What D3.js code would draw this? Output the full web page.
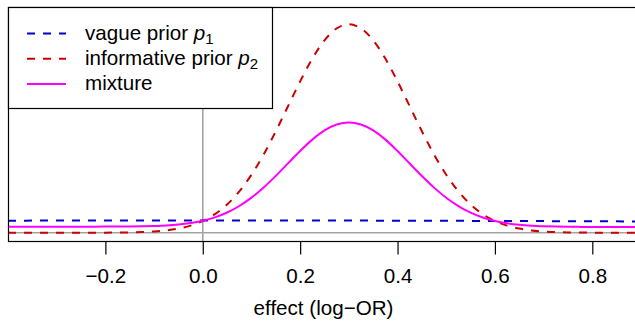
<!DOCTYPE html>
<html>
<head>
<meta charset="utf-8">
<script src="https://cdn.jsdelivr.net/npm/d3@7"></script>
<style>
  body { margin: 0; background: #fff; }
  svg { display: block; font-family: "Liberation Sans", Arial, Helvetica, sans-serif; }
</style>
</head>
<body>
<svg id="chart" width="635" height="321"></svg>
<script>
// Grid of effect values (log odds ratio)
const effect = [
  -0.400, -0.375, -0.350, -0.325, -0.300, -0.275, -0.250, -0.225, -0.200, -0.175,
  -0.150, -0.125, -0.100, -0.075, -0.050, -0.025,  0.000,  0.025,  0.050,  0.075,
   0.100,  0.125,  0.150,  0.175,  0.200,  0.225,  0.250,  0.275,  0.300,  0.325,
   0.350,  0.375,  0.400,  0.425,  0.450,  0.475,  0.500,  0.525,  0.550,  0.575,
   0.600,  0.625,  0.650,  0.675,  0.700,  0.725,  0.750,  0.775,  0.800,  0.825,
   0.850,  0.875,  0.900
];
// Vague prior density p1
const vague = [
  0.184, 0.184, 0.185, 0.185, 0.185, 0.186, 0.186, 0.186, 0.186, 0.186,
  0.187, 0.187, 0.187, 0.187, 0.187, 0.187, 0.187, 0.187, 0.187, 0.187,
  0.187, 0.187, 0.187, 0.186, 0.186, 0.186, 0.186, 0.185, 0.185, 0.185,
  0.185, 0.184, 0.184, 0.184, 0.183, 0.183, 0.182, 0.182, 0.181, 0.181,
  0.180, 0.180, 0.179, 0.179, 0.178, 0.177, 0.177, 0.176, 0.175, 0.175,
  0.174, 0.173, 0.173
];
// Informative prior density p2
const informative = [
  0.000, 0.000, 0.000, 0.000, 0.000, 0.000, 0.000, 0.000, 0.001, 0.002,
  0.005, 0.010, 0.019, 0.035, 0.063, 0.109, 0.179, 0.284, 0.432, 0.632,
  0.887, 1.197, 1.553, 1.935, 2.316, 2.665, 2.945, 3.127, 3.190, 3.127,
  2.945, 2.665, 2.316, 1.935, 1.553, 1.197, 0.887, 0.632, 0.432, 0.284,
  0.179, 0.109, 0.063, 0.035, 0.019, 0.010, 0.005, 0.002, 0.001, 0.000,
  0.000, 0.000, 0.000
];
// Equal-weight mixture of p1 and p2
const mixture = [
  0.092, 0.092, 0.092, 0.093, 0.093, 0.093, 0.093, 0.093, 0.094, 0.094,
  0.096, 0.098, 0.103, 0.111, 0.125, 0.148, 0.183, 0.235, 0.309, 0.409,
  0.537, 0.692, 0.870, 1.061, 1.251, 1.425, 1.565, 1.656, 1.688, 1.656,
  1.565, 1.425, 1.250, 1.059, 0.868, 0.690, 0.535, 0.407, 0.307, 0.232,
  0.180, 0.144, 0.121, 0.107, 0.099, 0.094, 0.091, 0.089, 0.088, 0.087,
  0.087, 0.087, 0.086
];
const xTicks = [-0.2, 0.0, 0.2, 0.4, 0.6, 0.8];
const xTickLabels = ["\u22120.2", "0.0", "0.2", "0.4", "0.6", "0.8"];
const xTitle = "effect (log\u2212OR)";
const legendItems = [
  { label: "vague prior ", sym: "p", sub: "1", color: "#0000CD", dash: "8,8" },
  { label: "informative prior ", sym: "p", sub: "2", color: "#CD0000", dash: "8,8" },
  { label: "mixture", sym: "", sub: "", color: "#FF00FF", dash: null }
];

const svg = d3.select("#chart");
const box = { left: 8, top: 7, bottom: 241, right: 641 };
const fontSize = 20.6;

const x = d3.scaleLinear().domain([-0.4, 0.9]).range([box.left, box.right]);
const y = d3.scaleLinear().domain([-0.127, 3.455]).range([box.bottom, box.top]);

const plot = svg.append("g");
svg.append("clipPath").attr("id", "plotclip")
  .append("rect").attr("x", box.left).attr("y", box.top)
  .attr("width", box.right - box.left).attr("height", box.bottom - box.top);
plot.attr("clip-path", "url(#plotclip)");

// Reference lines at zero
plot.append("line")
  .attr("x1", box.left).attr("x2", box.right)
  .attr("y1", y(0)).attr("y2", y(0))
  .attr("stroke", "#a3a3a3").attr("stroke-width", 1.6);
plot.append("line")
  .attr("x1", x(0)).attr("x2", x(0))
  .attr("y1", box.top).attr("y2", box.bottom)
  .attr("stroke", "#a3a3a3").attr("stroke-width", 1.6);

const line = vals => d3.line()
  .x((d, i) => x(effect[i]))
  .y(d => y(d))
  .curve(d3.curveCatmullRom)(vals);

plot.append("path").attr("d", line(vague))
  .attr("fill", "none").attr("stroke", "#0000CD").attr("stroke-width", 2)
  .attr("stroke-dasharray", "8,8");
plot.append("path").attr("d", line(informative))
  .attr("fill", "none").attr("stroke", "#CD0000").attr("stroke-width", 2)
  .attr("stroke-dasharray", "8,8");
plot.append("path").attr("d", line(mixture))
  .attr("fill", "none").attr("stroke", "#FF00FF").attr("stroke-width", 2);

// Plot frame
svg.append("rect")
  .attr("x", box.left + 0.5).attr("y", box.top + 0.5)
  .attr("width", box.right - box.left + 20).attr("height", box.bottom - box.top)
  .attr("fill", "none").attr("stroke", "#000").attr("stroke-width", 1.2);

// x axis
const axis = d3.axisBottom(x).tickValues(xTicks)
  .tickFormat((d, i) => xTickLabels[i]).tickSize(13).tickPadding(14);
const gx = svg.append("g").attr("transform", `translate(0,${box.bottom + 0.5})`).call(axis);
gx.select(".domain").remove();
gx.selectAll(".tick line").attr("stroke", "#000").attr("stroke-width", 1.2);
gx.selectAll(".tick text")
  .attr("font-size", fontSize).attr("fill", "#000")
  .attr("font-family", "Liberation Sans, Arial, sans-serif");

svg.append("text")
  .attr("x", (x(-0.4) + x(0.9)) / 2 - 1).attr("y", 315)
  .attr("text-anchor", "middle").attr("font-size", fontSize)
  .text(xTitle);

// Legend
const lg = svg.append("g");
lg.append("rect")
  .attr("x", box.left + 0.5).attr("y", box.top + 0.5)
  .attr("width", 264).attr("height", 101)
  .attr("fill", "#fff").attr("stroke", "#000").attr("stroke-width", 1.2);
legendItems.forEach((it, i) => {
  const ly = 33.5 + i * 25.2;
  lg.append("line")
    .attr("x1", 27).attr("x2", 66).attr("y1", ly).attr("y2", ly)
    .attr("stroke", it.color).attr("stroke-width", 2)
    .attr("stroke-dasharray", it.dash);
  const t = lg.append("text").attr("x", 85).attr("y", ly + 6).attr("font-size", fontSize);
  t.append("tspan").text(it.label);
  if (it.sym) {
    t.append("tspan").attr("font-style", "italic").text(it.sym);
    t.append("tspan").attr("font-size", 15).attr("dy", 4).text(it.sub);
  }
});
</script>
</body>
</html>
